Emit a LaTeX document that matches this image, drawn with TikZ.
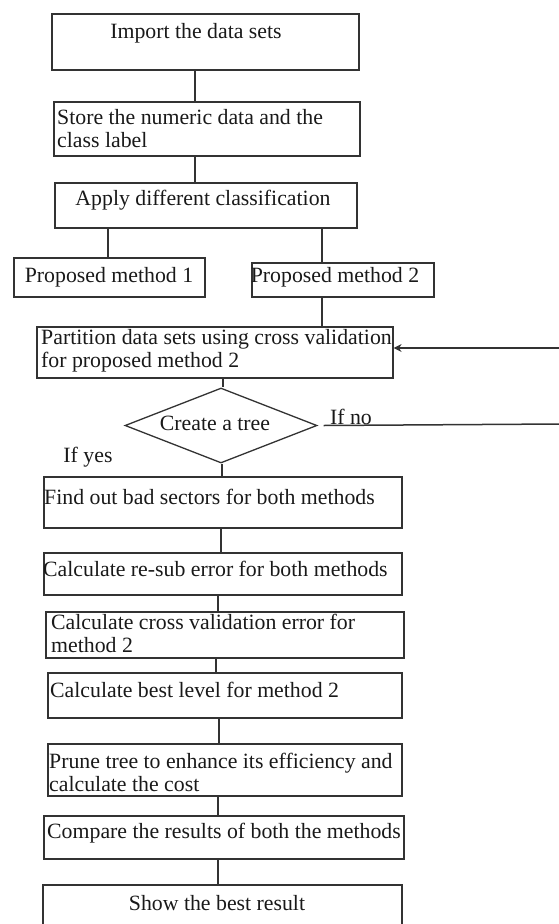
\documentclass[tikz,border=0pt]{standalone}
\usepackage{fontspec}
\setmainfont{Liberation Serif}
\usetikzlibrary{shapes.geometric,arrows.meta}
\begin{document}
\begin{tikzpicture}[x=1pt,y=-1pt,
  boxst/.style={draw=black!80,line width=1.6pt,inner sep=0pt,anchor=north west,fill=none},
  txt/.style={inner sep=0pt,font=\fontsize{21.8}{23}\selectfont,text=black!90},
  txtl/.style={txt,anchor=west,align=left},
  conn/.style={draw=black!80,line width=1.5pt}]
\useasboundingbox (0,0) rectangle (559,924);
% boxes
\node[boxst,minimum width=307pt,minimum height=56pt] (b1) at (51,13) {};
\node[txt] (t1) at (196,33) {Import the data sets};
\node[boxst,minimum width=306pt,minimum height=54pt] (b2) at (53,101) {};
\node[txtl] (t2) at (57,129) {Store the numeric data and the\\class label};
\node[boxst,minimum width=302pt,minimum height=45pt] (b3) at (54,182) {};
\node[txt] (t3) at (203,200) {Apply different classification};
\node[boxst,minimum width=191pt,minimum height=39pt] (b4) at (13,257) {};
\node[txt] (t4) at (109,277) {Proposed method 1};
\node[boxst,minimum width=182pt,minimum height=34pt] (b5) at (251,262) {};
\node[txt] (t5) at (335,277) {Proposed method 2};
\node[boxst,minimum width=356pt,minimum height=51pt] (b6) at (36,326) {};
\node[txtl] (t6) at (41,350.5) {Partition data sets using cross validation\\for proposed method 2};
\node[draw=black!80,line width=1.3pt,diamond,inner sep=0pt,minimum width=192pt,minimum height=75pt,shape aspect=2.56] (d) at (221,425.5) {};
\node[txt] (td) at (215,423) {Create a tree};
\node[txt] (tno) at (351,417) {If no};
\node[txt] (tyes) at (88,457) {If yes};
\node[boxst,minimum width=358pt,minimum height=51pt] (b7) at (43,476) {};
\node[txtl] (t7) at (44,497) {Find out bad sectors for both methods};
\node[boxst,minimum width=358pt,minimum height=42pt] (b8) at (43,552) {};
\node[txtl] (t8) at (43,569) {Calculate re-sub error for both methods};
\node[boxst,minimum width=358pt,minimum height=46pt] (b9) at (45,611) {};
\node[txtl] (t9) at (51,633) {Calculate cross validation error for\\method 2};
\node[boxst,minimum width=354pt,minimum height=45pt] (b10) at (47,672) {};
\node[txtl] (t10) at (50,690) {Calculate best level for method 2};
\node[boxst,minimum width=354pt,minimum height=52pt] (b11) at (47,743) {};
\node[txtl] (t11) at (49,772) {Prune tree to enhance its efficiency and\\calculate the cost};
\node[boxst,minimum width=360pt,minimum height=43pt] (b12) at (43,815) {};
\node[txtl] (t12) at (47,833) {Compare the results of both the methods};
\node[boxst,minimum width=359pt,minimum height=60pt] (b13) at (42,884) {};
\node[txt] (t13) at (217,903) {Show the best result};
% free ends at the right edge
\coordinate (rin) at (560,348);
\coordinate (rno) at (560,424);
% connectors
\draw[conn] (b1.south -| 195,0) -- (b2.north -| 195,0);
\draw[conn] (b2.south -| 195,0) -- (b3.north -| 195,0);
\draw[conn] (b3.south -| 108,0) -- (b4.north -| 108,0);
\draw[conn] (b3.south -| 322,0) -- (b5.north -| 322,0);
\draw[conn] (b5.south -| 322,0) -- (b6.north -| 322,0);
\draw[conn] (b6.south -| 223,0) -- (d.north -| 223,0);
\draw[conn] (d.south -| 222,0) -- (b7.north -| 222,0);
\draw[conn] (b7.south -| 221,0) -- (b8.north -| 221,0);
\draw[conn] (b8.south -| 218,0) -- (b9.north -| 218,0);
\draw[conn] (b9.south -| 216,0) -- (b10.north -| 216,0);
\draw[conn] (b10.south -| 219,0) -- (b11.north -| 219,0);
\draw[conn] (b11.south -| 218,0) -- (b12.north -| 218,0);
\draw[conn] (b12.south -| 218,0) -- (b13.north -| 218,0);
\draw[conn] ([xshift=6pt]d.east) -- (rno);
\draw[conn,-{Stealth[open,length=8pt,width=8pt]}] (rin) -- (b6.east |- rin);
\end{tikzpicture}
\end{document}
